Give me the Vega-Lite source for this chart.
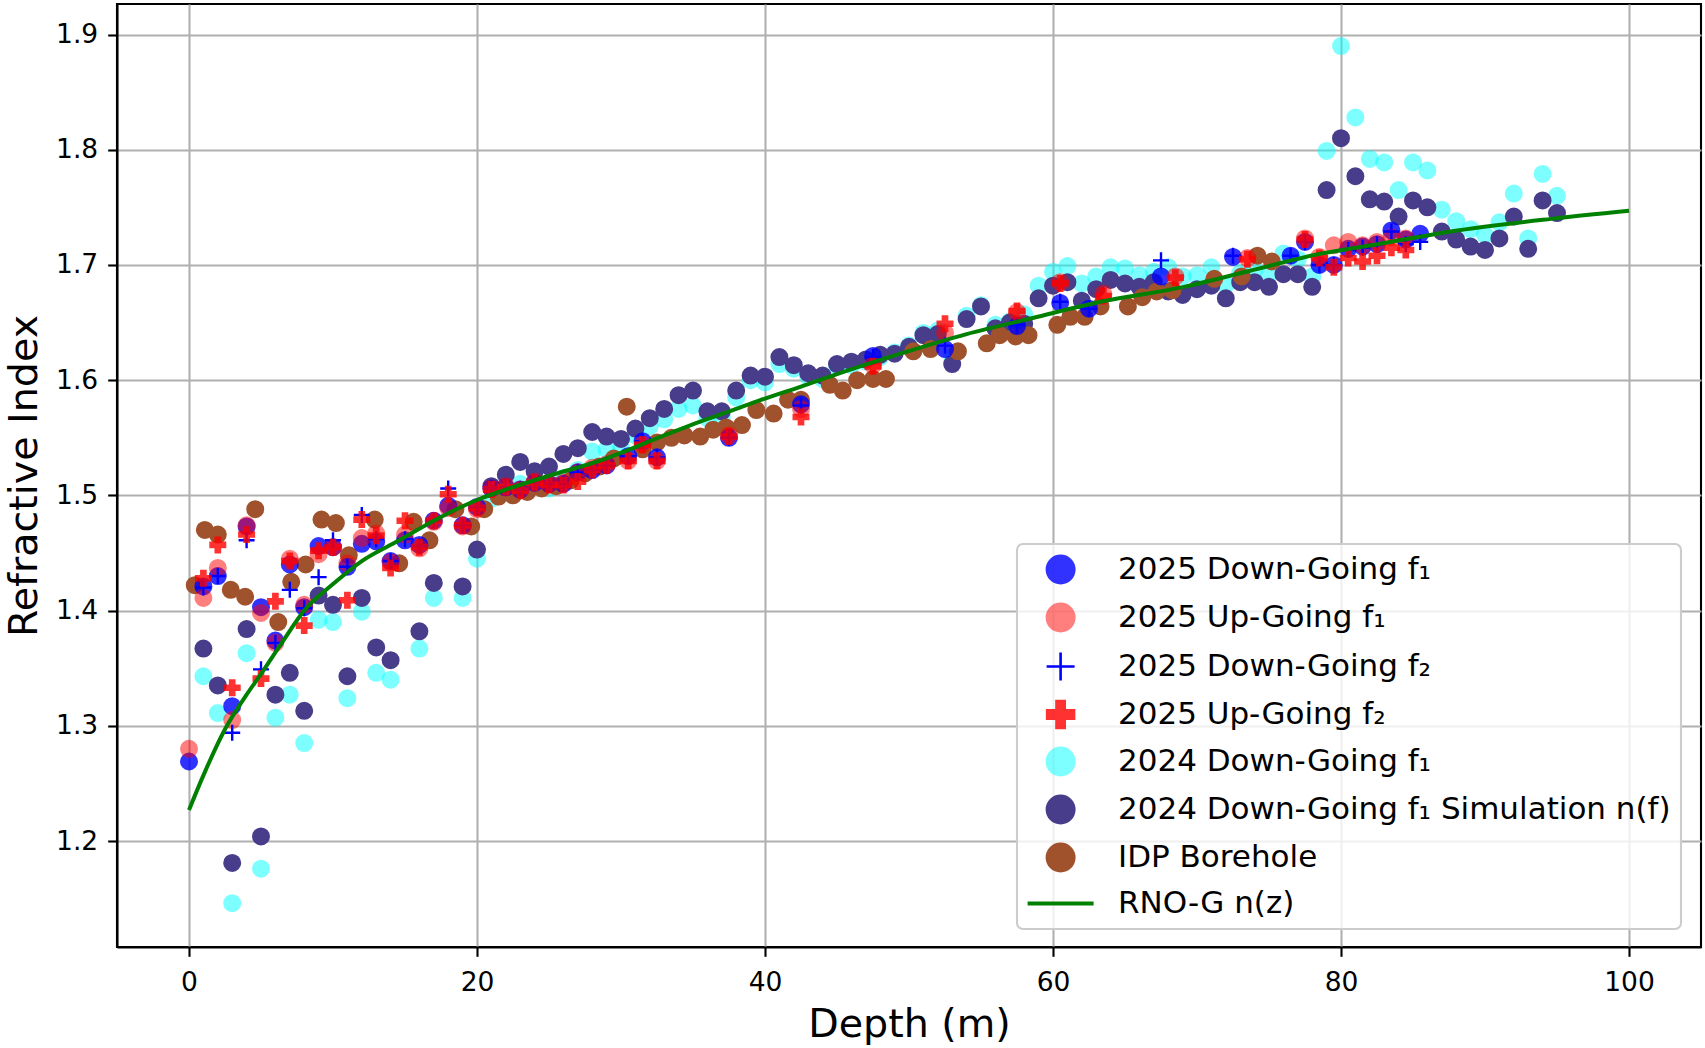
{
  "$schema": "https://vega.github.io/schema/vega-lite/v6.json",
  "width": 1584,
  "height": 943,
  "autosize": {"type": "none"},
  "padding": {"left": 117, "top": 4, "right": 4, "bottom": 101},
  "config": {
    "font": "DejaVu Sans",
    "view": {"stroke": "black", "strokeWidth": 2.1},
    "axis": {
      "domainColor": "black", "domainWidth": 2.1,
      "tickColor": "black", "tickWidth": 2.1, "tickSize": 9.3,
      "labelFont": "DejaVu Sans", "labelFontSize": 26.5, "labelColor": "black",
      "titleFont": "DejaVu Sans", "titleFontSize": 39.6, "titleFontWeight": "normal", "titleColor": "black",
      "grid": true, "gridColor": "#b0b0b0", "gridWidth": 2.1, "gridOpacity": 1
    },
    "legend": {
      "orient": "none", "legendX": 900, "legendY": 540,
      "padding": 10, "fillColor": "rgba(255,255,255,0.8)", "strokeColor": "#cccccc",
      "strokeWidth": 2.1, "cornerRadius": 6,
      "labelFont": "DejaVu Sans", "labelFontSize": 31, "labelColor": "black",
      "labelOffset": 60, "labelLimit": 0, "rowPadding": 11, "symbolSize": 784
    }
  },
  "datasets": {
    "pts": [
      {"s":"e","d":1,"n":1.343},{"s":"e","d":2,"n":1.311},{"s":"e","d":3,"n":1.146},{"s":"e","d":4,"n":1.363},{"s":"e","d":5,"n":1.176},{"s":"e","d":6,"n":1.307},{"s":"e","d":7,"n":1.327},{"s":"e","d":8,"n":1.285},{"s":"e","d":9,"n":1.392},{"s":"e","d":10,"n":1.390},{"s":"e","d":11,"n":1.324},{"s":"e","d":12,"n":1.399},{"s":"e","d":13,"n":1.346},{"s":"e","d":14,"n":1.340},{"s":"e","d":16,"n":1.367},{"s":"e","d":17,"n":1.411},{"s":"e","d":19,"n":1.411},{"s":"e","d":20,"n":1.445},
      {"s":"e","d":21,"n":1.497},{"s":"e","d":22,"n":1.505},{"s":"e","d":23,"n":1.510},{"s":"e","d":24,"n":1.508},{"s":"e","d":25,"n":1.506},{"s":"e","d":26,"n":1.515},{"s":"e","d":27,"n":1.522},{"s":"e","d":28,"n":1.538},{"s":"e","d":29,"n":1.540},{"s":"e","d":30,"n":1.541},{"s":"e","d":31,"n":1.552},{"s":"e","d":32,"n":1.560},{"s":"e","d":33,"n":1.566},{"s":"e","d":34,"n":1.575},{"s":"e","d":35,"n":1.578},{"s":"e","d":36,"n":1.567},{"s":"e","d":37,"n":1.568},{"s":"e","d":38,"n":1.585},{"s":"e","d":39,"n":1.600},{"s":"e","d":40,"n":1.598},
      {"s":"e","d":41,"n":1.614},{"s":"e","d":42,"n":1.610},{"s":"e","d":43,"n":1.603},{"s":"e","d":44,"n":1.601},{"s":"e","d":45,"n":1.612},{"s":"e","d":46,"n":1.613},{"s":"e","d":47,"n":1.616},{"s":"e","d":48,"n":1.620},{"s":"e","d":49,"n":1.624},{"s":"e","d":50,"n":1.630},{"s":"e","d":51,"n":1.641},{"s":"e","d":52,"n":1.643},{"s":"e","d":53,"n":1.620},{"s":"e","d":54,"n":1.656},{"s":"e","d":55,"n":1.665},{"s":"e","d":56,"n":1.648},{"s":"e","d":57,"n":1.651},{"s":"e","d":58,"n":1.657},{"s":"e","d":59,"n":1.682},{"s":"e","d":60,"n":1.694},
      {"s":"e","d":61,"n":1.699},{"s":"e","d":62,"n":1.684},{"s":"e","d":63,"n":1.690},{"s":"e","d":64,"n":1.698},{"s":"e","d":65,"n":1.697},{"s":"e","d":66,"n":1.691},{"s":"e","d":67,"n":1.694},{"s":"e","d":68,"n":1.698},{"s":"e","d":69,"n":1.690},{"s":"e","d":70,"n":1.691},{"s":"e","d":71,"n":1.698},{"s":"e","d":72,"n":1.683},{"s":"e","d":73,"n":1.693},{"s":"e","d":74,"n":1.696},{"s":"e","d":75,"n":1.691},{"s":"e","d":76,"n":1.710},{"s":"e","d":77,"n":1.705},{"s":"e","d":78,"n":1.690},{"s":"e","d":79,"n":1.799},{"s":"e","d":80,"n":1.890},
      {"s":"e","d":81,"n":1.828},{"s":"e","d":82,"n":1.792},{"s":"e","d":83,"n":1.789},{"s":"e","d":84,"n":1.765},{"s":"e","d":85,"n":1.789},{"s":"e","d":86,"n":1.782},{"s":"e","d":87,"n":1.748},{"s":"e","d":88,"n":1.738},{"s":"e","d":89,"n":1.731},{"s":"e","d":90,"n":1.726},{"s":"e","d":91,"n":1.737},{"s":"e","d":92,"n":1.762},{"s":"e","d":93,"n":1.723},{"s":"e","d":94,"n":1.779},{"s":"e","d":95,"n":1.760},

      {"s":"f","d":1,"n":1.367},{"s":"f","d":2,"n":1.335},{"s":"f","d":3,"n":1.181},{"s":"f","d":4,"n":1.384},{"s":"f","d":5,"n":1.204},{"s":"f","d":6,"n":1.327},{"s":"f","d":7,"n":1.346},{"s":"f","d":8,"n":1.313},{"s":"f","d":9,"n":1.413},{"s":"f","d":10,"n":1.405},{"s":"f","d":11,"n":1.343},{"s":"f","d":12,"n":1.411},{"s":"f","d":13,"n":1.368},{"s":"f","d":14,"n":1.357},{"s":"f","d":16,"n":1.382},{"s":"f","d":17,"n":1.424},{"s":"f","d":19,"n":1.421},{"s":"f","d":20,"n":1.453},
      {"s":"f","d":21,"n":1.508},{"s":"f","d":22,"n":1.518},{"s":"f","d":23,"n":1.529},{"s":"f","d":24,"n":1.521},{"s":"f","d":25,"n":1.525},{"s":"f","d":26,"n":1.536},{"s":"f","d":27,"n":1.541},{"s":"f","d":28,"n":1.555},{"s":"f","d":29,"n":1.551},{"s":"f","d":30,"n":1.549},{"s":"f","d":31,"n":1.558},{"s":"f","d":32,"n":1.567},{"s":"f","d":33,"n":1.575},{"s":"f","d":34,"n":1.587},{"s":"f","d":35,"n":1.591},{"s":"f","d":36,"n":1.573},{"s":"f","d":37,"n":1.573},{"s":"f","d":38,"n":1.591},{"s":"f","d":39,"n":1.604},{"s":"f","d":40,"n":1.603},
      {"s":"f","d":41,"n":1.620},{"s":"f","d":42,"n":1.613},{"s":"f","d":43,"n":1.606},{"s":"f","d":44,"n":1.604},{"s":"f","d":45,"n":1.614},{"s":"f","d":46,"n":1.616},{"s":"f","d":47,"n":1.618},{"s":"f","d":48,"n":1.622},{"s":"f","d":49,"n":1.623},{"s":"f","d":50,"n":1.629},{"s":"f","d":51,"n":1.639},{"s":"f","d":52,"n":1.640},{"s":"f","d":53,"n":1.614},{"s":"f","d":54,"n":1.653},{"s":"f","d":55,"n":1.664},{"s":"f","d":56,"n":1.645},{"s":"f","d":57,"n":1.650},{"s":"f","d":58,"n":1.649},{"s":"f","d":59,"n":1.671},{"s":"f","d":60,"n":1.682},
      {"s":"f","d":61,"n":1.685},{"s":"f","d":62,"n":1.669},{"s":"f","d":63,"n":1.679},{"s":"f","d":64,"n":1.687},{"s":"f","d":65,"n":1.684},{"s":"f","d":66,"n":1.681},{"s":"f","d":67,"n":1.685},{"s":"f","d":68,"n":1.677},{"s":"f","d":69,"n":1.674},{"s":"f","d":70,"n":1.679},{"s":"f","d":71,"n":1.682},{"s":"f","d":72,"n":1.671},{"s":"f","d":73,"n":1.685},{"s":"f","d":74,"n":1.685},{"s":"f","d":75,"n":1.681},{"s":"f","d":76,"n":1.692},{"s":"f","d":77,"n":1.692},{"s":"f","d":78,"n":1.681},{"s":"f","d":79,"n":1.765},{"s":"f","d":80,"n":1.810},
      {"s":"f","d":81,"n":1.777},{"s":"f","d":82,"n":1.757},{"s":"f","d":83,"n":1.755},{"s":"f","d":84,"n":1.742},{"s":"f","d":85,"n":1.756},{"s":"f","d":86,"n":1.750},{"s":"f","d":87,"n":1.729},{"s":"f","d":88,"n":1.722},{"s":"f","d":89,"n":1.716},{"s":"f","d":90,"n":1.713},{"s":"f","d":91,"n":1.723},{"s":"f","d":92,"n":1.742},{"s":"f","d":93,"n":1.714},{"s":"f","d":94,"n":1.756},{"s":"f","d":95,"n":1.745},

      {"s":"g","d":0.4,"n":1.422},{"s":"g","d":1.1,"n":1.470},{"s":"g","d":2,"n":1.466},{"s":"g","d":2.9,"n":1.418},{"s":"g","d":3.9,"n":1.412},{"s":"g","d":4.6,"n":1.488},{"s":"g","d":6.2,"n":1.390},{"s":"g","d":7.1,"n":1.425},{"s":"g","d":8.1,"n":1.440},{"s":"g","d":9.2,"n":1.479},{"s":"g","d":10.2,"n":1.476},{"s":"g","d":11.1,"n":1.448},{"s":"g","d":12.9,"n":1.479},{"s":"g","d":14.6,"n":1.441},{"s":"g","d":15.6,"n":1.477},{"s":"g","d":16.7,"n":1.461},{"s":"g","d":18.5,"n":1.488},{"s":"g","d":19.6,"n":1.473},{"s":"g","d":20.5,"n":1.488},
      {"s":"g","d":21.5,"n":1.499},{"s":"g","d":22.5,"n":1.500},{"s":"g","d":23.5,"n":1.503},{"s":"g","d":24.5,"n":1.506},{"s":"g","d":25.5,"n":1.508},{"s":"g","d":26.5,"n":1.513},{"s":"g","d":27.5,"n":1.519},{"s":"g","d":28.5,"n":1.525},{"s":"g","d":29.5,"n":1.532},{"s":"g","d":30.4,"n":1.577},{"s":"g","d":31.5,"n":1.540},{"s":"g","d":32.5,"n":1.546},{"s":"g","d":33.5,"n":1.550},{"s":"g","d":34.4,"n":1.552},{"s":"g","d":35.5,"n":1.551},{"s":"g","d":36.4,"n":1.557},{"s":"g","d":37.3,"n":1.559},{"s":"g","d":38.4,"n":1.561},{"s":"g","d":39.4,"n":1.574},{"s":"g","d":40.6,"n":1.571},
      {"s":"g","d":41.6,"n":1.583},{"s":"g","d":42.5,"n":1.583},{"s":"g","d":44.5,"n":1.596},{"s":"g","d":45.4,"n":1.591},{"s":"g","d":46.4,"n":1.600},{"s":"g","d":47.5,"n":1.601},{"s":"g","d":48.4,"n":1.601},{"s":"g","d":50.3,"n":1.625},{"s":"g","d":51.5,"n":1.627},{"s":"g","d":53.4,"n":1.625},{"s":"g","d":55.4,"n":1.632},{"s":"g","d":56.3,"n":1.639},{"s":"g","d":57.4,"n":1.638},{"s":"g","d":58.3,"n":1.639},{"s":"g","d":60.3,"n":1.648},{"s":"g","d":61.2,"n":1.655},{"s":"g","d":62.2,"n":1.655},{"s":"g","d":63.3,"n":1.664},{"s":"g","d":65.2,"n":1.664},{"s":"g","d":66.2,"n":1.672},
      {"s":"g","d":67.2,"n":1.677},{"s":"g","d":68.3,"n":1.678},{"s":"g","d":71.2,"n":1.688},{"s":"g","d":73.1,"n":1.690},{"s":"g","d":74.2,"n":1.708},{"s":"g","d":75.2,"n":1.703},

      {"s":"a","d":0,"n":1.269},{"s":"a","d":1,"n":1.421},{"s":"a","d":2,"n":1.430},{"s":"a","d":3,"n":1.317},{"s":"a","d":4,"n":1.473},{"s":"a","d":5,"n":1.403},{"s":"a","d":6,"n":1.374},{"s":"a","d":7,"n":1.440},{"s":"a","d":8,"n":1.403},{"s":"a","d":9,"n":1.456},{"s":"a","d":10,"n":1.455},{"s":"a","d":11,"n":1.438},{"s":"a","d":12,"n":1.458},{"s":"a","d":13,"n":1.460},{"s":"a","d":14,"n":1.443},{"s":"a","d":15,"n":1.461},{"s":"a","d":16,"n":1.457},{"s":"a","d":17,"n":1.478},{"s":"a","d":18,"n":1.491},{"s":"a","d":19,"n":1.474},
      {"s":"a","d":20,"n":1.490},{"s":"a","d":21,"n":1.506},{"s":"a","d":22,"n":1.507},{"s":"a","d":23,"n":1.505},{"s":"a","d":24,"n":1.511},{"s":"a","d":25,"n":1.510},{"s":"a","d":26,"n":1.510},{"s":"a","d":27,"n":1.520},{"s":"a","d":28,"n":1.522},{"s":"a","d":29,"n":1.526},{"s":"a","d":30.5,"n":1.534},{"s":"a","d":31.5,"n":1.547},{"s":"a","d":32.5,"n":1.533},{"s":"a","d":37.5,"n":1.550},{"s":"a","d":42.5,"n":1.579},{"s":"a","d":47.5,"n":1.621},{"s":"a","d":52.5,"n":1.627},{"s":"a","d":57.5,"n":1.647},{"s":"a","d":60.5,"n":1.667},{"s":"a","d":62.5,"n":1.662},
      {"s":"a","d":67.5,"n":1.690},{"s":"a","d":72.5,"n":1.707},{"s":"a","d":76.5,"n":1.708},{"s":"a","d":77.5,"n":1.720},{"s":"a","d":78.5,"n":1.700},{"s":"a","d":79.5,"n":1.700},{"s":"a","d":80.5,"n":1.714},{"s":"a","d":81.5,"n":1.716},{"s":"a","d":82.5,"n":1.718},{"s":"a","d":83.5,"n":1.730},{"s":"a","d":84.5,"n":1.722},{"s":"a","d":85.5,"n":1.727},

      {"s":"b","d":0,"n":1.280},{"s":"b","d":1,"n":1.411},{"s":"b","d":2,"n":1.437},{"s":"b","d":3,"n":1.305},{"s":"b","d":4,"n":1.474},{"s":"b","d":5,"n":1.398},{"s":"b","d":6,"n":1.372},{"s":"b","d":7,"n":1.445},{"s":"b","d":8,"n":1.405},{"s":"b","d":9,"n":1.449},{"s":"b","d":10,"n":1.455},{"s":"b","d":11,"n":1.441},{"s":"b","d":12,"n":1.463},{"s":"b","d":13,"n":1.467},{"s":"b","d":14,"n":1.442},{"s":"b","d":15,"n":1.466},{"s":"b","d":16,"n":1.454},{"s":"b","d":17,"n":1.477},{"s":"b","d":18,"n":1.489},{"s":"b","d":19,"n":1.473},
      {"s":"b","d":20,"n":1.488},{"s":"b","d":21,"n":1.506},{"s":"b","d":22,"n":1.508},{"s":"b","d":23,"n":1.505},{"s":"b","d":24,"n":1.512},{"s":"b","d":25,"n":1.510},{"s":"b","d":26,"n":1.511},{"s":"b","d":27,"n":1.520},{"s":"b","d":28,"n":1.524},{"s":"b","d":29,"n":1.527},{"s":"b","d":30.5,"n":1.530},{"s":"b","d":31.5,"n":1.544},{"s":"b","d":32.5,"n":1.530},{"s":"b","d":37.5,"n":1.552},{"s":"b","d":42.5,"n":1.575},{"s":"b","d":47.5,"n":1.613},{"s":"b","d":52.5,"n":1.641},{"s":"b","d":57.5,"n":1.659},{"s":"b","d":60.5,"n":1.685},{"s":"b","d":63.5,"n":1.675},
      {"s":"b","d":68.5,"n":1.690},{"s":"b","d":73.5,"n":1.706},{"s":"b","d":77.5,"n":1.723},{"s":"b","d":78.5,"n":1.707},{"s":"b","d":79.5,"n":1.717},{"s":"b","d":80.5,"n":1.720},{"s":"b","d":81.5,"n":1.717},{"s":"b","d":82.5,"n":1.720},{"s":"b","d":83.5,"n":1.724},{"s":"b","d":84.5,"n":1.723},

      {"s":"c","d":1,"n":1.420},{"s":"c","d":2,"n":1.430},{"s":"c","d":3,"n":1.294},{"s":"c","d":4,"n":1.461},{"s":"c","d":5,"n":1.349},{"s":"c","d":6,"n":1.372},{"s":"c","d":7,"n":1.418},{"s":"c","d":8,"n":1.402},{"s":"c","d":9,"n":1.429},{"s":"c","d":10,"n":1.461},{"s":"c","d":11,"n":1.438},{"s":"c","d":12,"n":1.483},{"s":"c","d":13,"n":1.462},{"s":"c","d":14,"n":1.443},{"s":"c","d":15,"n":1.462},{"s":"c","d":16,"n":1.456},{"s":"c","d":17,"n":1.478},{"s":"c","d":18,"n":1.506},{"s":"c","d":19,"n":1.474},{"s":"c","d":20,"n":1.490},
      {"s":"c","d":21,"n":1.506},{"s":"c","d":22,"n":1.507},{"s":"c","d":23,"n":1.505},{"s":"c","d":24,"n":1.511},{"s":"c","d":25,"n":1.510},{"s":"c","d":26,"n":1.510},{"s":"c","d":27,"n":1.520},{"s":"c","d":28,"n":1.522},{"s":"c","d":29,"n":1.526},{"s":"c","d":30.5,"n":1.534},{"s":"c","d":31.5,"n":1.547},{"s":"c","d":32.5,"n":1.533},{"s":"c","d":37.5,"n":1.550},{"s":"c","d":42.5,"n":1.578},{"s":"c","d":47.5,"n":1.620},{"s":"c","d":52.5,"n":1.630},{"s":"c","d":57.5,"n":1.648},{"s":"c","d":60.5,"n":1.668},{"s":"c","d":62.5,"n":1.662},{"s":"c","d":67.5,"n":1.704},
      {"s":"c","d":72.5,"n":1.708},{"s":"c","d":76.5,"n":1.708},{"s":"c","d":77.5,"n":1.720},{"s":"c","d":78.5,"n":1.700},{"s":"c","d":79.5,"n":1.700},{"s":"c","d":80.5,"n":1.713},{"s":"c","d":81.5,"n":1.715},{"s":"c","d":82.5,"n":1.718},{"s":"c","d":83.5,"n":1.729},{"s":"c","d":84.5,"n":1.718},{"s":"c","d":85.5,"n":1.720},

      {"s":"d","d":1,"n":1.428},{"s":"d","d":2,"n":1.457},{"s":"d","d":3,"n":1.333},{"s":"d","d":4,"n":1.466},{"s":"d","d":5,"n":1.341},{"s":"d","d":6,"n":1.408},{"s":"d","d":7,"n":1.443},{"s":"d","d":8,"n":1.387},{"s":"d","d":9,"n":1.452},{"s":"d","d":10,"n":1.455},{"s":"d","d":11,"n":1.409},{"s":"d","d":12,"n":1.479},{"s":"d","d":13,"n":1.465},{"s":"d","d":14,"n":1.437},{"s":"d","d":15,"n":1.478},{"s":"d","d":16,"n":1.455},{"s":"d","d":17,"n":1.478},{"s":"d","d":18,"n":1.501},{"s":"d","d":19,"n":1.474},{"s":"d","d":20,"n":1.489},
      {"s":"d","d":21,"n":1.505},{"s":"d","d":22,"n":1.507},{"s":"d","d":23,"n":1.504},{"s":"d","d":24,"n":1.511},{"s":"d","d":25,"n":1.509},{"s":"d","d":26,"n":1.509},{"s":"d","d":27,"n":1.512},{"s":"d","d":28,"n":1.522},{"s":"d","d":29,"n":1.526},{"s":"d","d":30.5,"n":1.530},{"s":"d","d":31.5,"n":1.544},{"s":"d","d":32.5,"n":1.530},{"s":"d","d":37.5,"n":1.551},{"s":"d","d":42.5,"n":1.568},{"s":"d","d":47.5,"n":1.612},{"s":"d","d":52.5,"n":1.649},{"s":"d","d":57.5,"n":1.660},{"s":"d","d":60.5,"n":1.684},{"s":"d","d":63.5,"n":1.673},{"s":"d","d":68.5,"n":1.689},
      {"s":"d","d":73.5,"n":1.705},{"s":"d","d":77.5,"n":1.722},{"s":"d","d":78.5,"n":1.706},{"s":"d","d":79.5,"n":1.698},{"s":"d","d":80.5,"n":1.706},{"s":"d","d":81.5,"n":1.703},{"s":"d","d":82.5,"n":1.708},{"s":"d","d":83.5,"n":1.715},{"s":"d","d":84.5,"n":1.713}
    ],
    "curve": [
      {"s":"h","d":0,"n":1.227},{"s":"h","d":1,"n":1.257},{"s":"h","d":2.5,"n":1.297},{"s":"h","d":4,"n":1.327},{"s":"h","d":5,"n":1.345},{"s":"h","d":6.5,"n":1.373},{"s":"h","d":8,"n":1.400},{"s":"h","d":10,"n":1.423},{"s":"h","d":12,"n":1.443},{"s":"h","d":14.6,"n":1.461},{"s":"h","d":17,"n":1.478},{"s":"h","d":20,"n":1.496},{"s":"h","d":22,"n":1.505},{"s":"h","d":25,"n":1.517},{"s":"h","d":28.5,"n":1.530},{"s":"h","d":33,"n":1.552},
      {"s":"h","d":35.5,"n":1.564},{"s":"h","d":38,"n":1.575},{"s":"h","d":40,"n":1.584},{"s":"h","d":42.4,"n":1.594},{"s":"h","d":44.7,"n":1.604},{"s":"h","d":49.4,"n":1.623},{"s":"h","d":54,"n":1.640},{"s":"h","d":58.6,"n":1.654},{"s":"h","d":63.3,"n":1.668},{"s":"h","d":69.1,"n":1.681},{"s":"h","d":73.7,"n":1.695},{"s":"h","d":78.3,"n":1.709},{"s":"h","d":83,"n":1.719},{"s":"h","d":87.6,"n":1.729},{"s":"h","d":94.6,"n":1.740},{"s":"h","d":100,"n":1.747}
    ]
  },
  "encoding": {
    "x": {
      "field": "d", "type": "quantitative",
      "scale": {"domain": [-5, 105], "nice": false, "zero": false},
      "axis": {"title": "Depth (m)", "values": [0, 20, 40, 60, 80, 100], "format": "d", "labelPadding": 13, "titlePadding": 10}
    },
    "y": {
      "field": "n", "type": "quantitative",
      "scale": {"domain": [1.108, 1.9265], "nice": false, "zero": false},
      "axis": {"title": "Refractive Index", "values": [1.2, 1.3, 1.4, 1.5, 1.6, 1.7, 1.8, 1.9], "format": ".1f", "labelPadding": 10, "titlePadding": 11}
    },
    "stroke": {
      "field": "s", "type": "nominal",
      "scale": {"domain": ["a","b","c","d","e","f","g","h"], "range": ["#0000ff","#ff0000","#0000ff","#ff0000","#00ffff","#483d8b","#a0522d","#008000"]},
      "legend": {
        "title": null,
        "labelExpr": "datum.label=='a'?'2025 Down-Going f\u2081':datum.label=='b'?'2025 Up-Going f\u2081':datum.label=='c'?'2025 Down-Going f\u2082':datum.label=='d'?'2025 Up-Going f\u2082':datum.label=='e'?'2024 Down-Going f\u2081':datum.label=='f'?'2024 Down-Going f\u2081 Simulation n(f)':datum.label=='g'?'IDP Borehole':'RNO-G n(z)'",
        "encode": {
          "symbols": {
            "update": {
              "x": {"value": 33.6},
              "fill": {"signal": "datum.value=='a'?'#0000ff':datum.value=='b'||datum.value=='d'?'#ff0000':datum.value=='e'?'#00ffff':datum.value=='f'?'#483d8b':datum.value=='g'?'#a0522d':'transparent'"},
              "shape": {"signal": "datum.value=='c'?'M-1,0H1M0,-1V1':datum.value=='d'?'M-1,-0.333H-0.333V-1H0.333V-0.333H1V0.333H0.333V1H-0.333V0.333H-1Z':datum.value=='h'?'stroke':'circle'"},
              "size": {"signal": "datum.value=='h'?4356:784"},
              "strokeWidth": {"signal": "datum.value=='h'?4:datum.value=='c'?2.6:datum.value=='d'?1.5:2"},
              "opacity": {"signal": "datum.value=='a'||datum.value=='d'?0.8:datum.value=='b'||datum.value=='e'?0.5:1"}
            }
          }
        }
      }
    }
  },
  "layer": [
    {
      "data": {"name": "pts"},
      "mark": {"type": "point", "opacity": 1},
      "encoding": {
        "fill": {
          "field": "s", "type": "nominal", "legend": null,
          "scale": {"domain": ["a","b","c","d","e","f","g"], "range": ["#0000ff","#ff0000","transparent","#ff0000","#00ffff","#483d8b","#a0522d"]}
        },
        "shape": {
          "field": "s", "type": "nominal", "legend": null,
          "scale": {"domain": ["a","b","c","d","e","f","g"], "range": ["circle","circle","M-1,0H1M0,-1V1","M-1,-0.333H-0.333V-1H0.333V-0.333H1V0.333H0.333V1H-0.333V0.333H-1Z","circle","circle","circle"]}
        },
        "size": {
          "field": "s", "type": "nominal", "legend": null,
          "scale": {"type": "ordinal", "domain": ["a","b","c","d","e","f","g"], "range": [256, 256, 256, 240, 256, 256, 256]}
        },
        "strokeWidth": {
          "field": "s", "type": "nominal", "legend": null,
          "scale": {"type": "ordinal", "domain": ["a","b","c","d","e","f","g"], "range": [2, 2, 2.4, 1.5, 2, 2, 2]}
        },
        "opacity": {
          "field": "s", "type": "nominal", "legend": null,
          "scale": {"type": "ordinal", "domain": ["a","b","c","d","e","f","g"], "range": [0.8, 0.5, 1, 0.8, 0.5, 1, 1]}
        }
      }
    },
    {
      "data": {"name": "curve"},
      "mark": {"type": "line", "interpolate": "monotone", "strokeWidth": 4},
      "encoding": {}
    }
  ]
}
